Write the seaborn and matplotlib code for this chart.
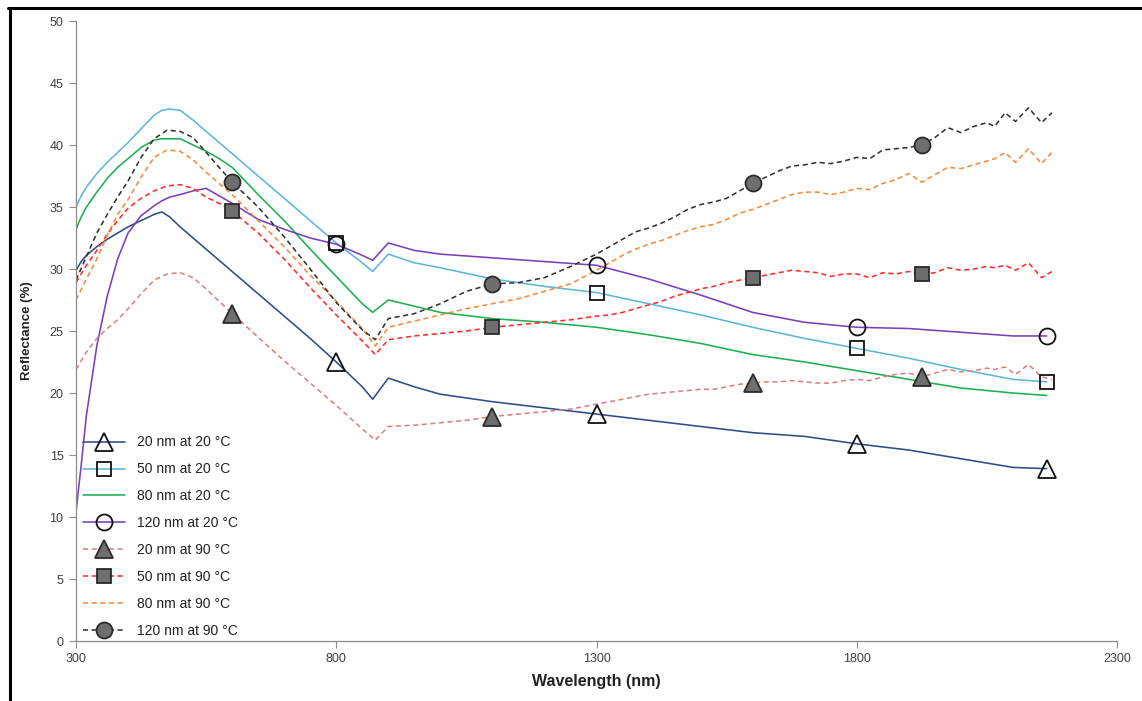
import matplotlib
matplotlib.use('Agg')
import matplotlib.pyplot as plt
from matplotlib.lines import Line2D
import seaborn as sns

# wavelength grid of the 20 °C scans (smooth curves)
wl_20c = [300, 310, 320, 340, 360, 380, 400, 425, 450, 465, 480, 500, 525, 550, 575, 600,
          650, 700, 750, 800, 850, 870, 900, 950, 1000, 1100, 1200, 1300, 1400, 1500,
          1600, 1700, 1800, 1900, 2000, 2100, 2165]

r20nm_20c = [29.9, 30.6, 31.1, 31.8, 32.4, 32.9, 33.4, 33.9, 34.4, 34.6, 34.2, 33.4, 32.5, 31.6, 30.7, 29.8,
             28.0, 26.2, 24.4, 22.5, 20.5, 19.5, 21.2, 20.5, 19.9, 19.3, 18.8, 18.3, 17.8, 17.3,
             16.8, 16.5, 15.9, 15.4, 14.7, 14.0, 13.9]
r50nm_20c = [35.0, 35.9, 36.6, 37.7, 38.6, 39.4, 40.2, 41.3, 42.4, 42.8, 42.9, 42.8, 42.0, 41.1, 40.2, 39.3,
             37.5, 35.7, 33.9, 32.1, 30.5, 29.8, 31.2, 30.5, 30.1, 29.2, 28.6, 28.1, 27.2, 26.3,
             25.3, 24.4, 23.6, 22.8, 21.9, 21.1, 20.9]
r80nm_20c = [33.2, 34.2, 35.0, 36.2, 37.3, 38.2, 38.9, 39.8, 40.4, 40.5, 40.5, 40.5, 40.0, 39.5, 38.9, 38.2,
             36.0, 33.9, 31.6, 29.4, 27.2, 26.5, 27.5, 27.0, 26.5, 26.0, 25.7, 25.3, 24.7, 24.0,
             23.1, 22.5, 21.8, 21.1, 20.4, 20.0, 19.8]
r120nm_20c = [10.4, 14.2, 18.2, 23.8, 27.8, 30.8, 32.9, 34.3, 35.1, 35.5, 35.8, 36.0, 36.3, 36.5, 35.9, 35.3,
              34.0, 33.2, 32.5, 32.0, 31.1, 30.7, 32.1, 31.5, 31.2, 30.9, 30.6, 30.3, 29.2, 27.9,
              26.5, 25.7, 25.3, 25.2, 24.9, 24.6, 24.6]

# wavelength grid of the 90 °C scans (noisier in the NIR)
wl_90c = [300, 320, 340, 360, 380, 400, 425, 450, 475, 500, 525, 550, 575, 600, 650, 700, 750, 800,
          850, 875, 900, 950, 1000, 1050, 1100, 1150, 1200, 1250, 1300,
          1325, 1350, 1375, 1400, 1425, 1450, 1475, 1500, 1525, 1550, 1575, 1600, 1625, 1650, 1675,
          1700, 1725, 1750, 1775, 1800, 1825, 1850, 1875, 1900, 1925, 1950, 1975, 2000, 2025, 2050,
          2065, 2085, 2105, 2130, 2155, 2175]

r20nm_90c = [21.9, 23.3, 24.4, 25.2, 25.9, 26.8, 28.0, 29.1, 29.6, 29.7, 29.3, 28.4, 27.4, 26.4, 24.5, 22.6, 20.8, 19.0,
             17.1, 16.2, 17.3, 17.4, 17.6, 17.8, 18.1, 18.3, 18.5, 18.7, 19.1,
             19.3, 19.5, 19.7, 19.9, 20.0, 20.1, 20.2, 20.3, 20.3, 20.5, 20.7, 20.8, 20.9, 20.9, 21.0,
             20.9, 20.8, 20.8, 21.0, 21.1, 21.0, 21.3, 21.5, 21.6, 21.3, 21.6, 21.9, 21.7, 21.8, 22.0,
             21.9, 22.1, 21.5, 22.3, 21.3, 21.1]
r50nm_90c = [28.9, 30.3, 31.5, 32.8, 33.9, 34.9, 35.7, 36.3, 36.7, 36.8, 36.5, 35.8, 35.3, 34.7, 32.9, 30.8, 28.5, 26.3,
             24.2, 23.1, 24.3, 24.6, 24.8, 25.0, 25.3, 25.5, 25.7, 25.9, 26.2,
             26.3, 26.5, 26.8, 27.1, 27.4, 27.8, 28.1, 28.4, 28.6, 28.9, 29.1, 29.3, 29.5, 29.7, 29.9,
             29.8, 29.7, 29.4, 29.6, 29.6, 29.3, 29.7, 29.6, 29.8, 29.6, 29.7, 30.1, 29.9, 30.0, 30.2,
             30.1, 30.3, 29.9, 30.5, 29.3, 29.8]
r80nm_90c = [27.5, 29.2, 30.8, 32.7, 34.4, 35.6, 37.4, 39.0, 39.6, 39.5, 38.8, 37.8, 36.9, 36.0, 33.9, 31.8, 29.5, 27.4,
             25.2, 23.8, 25.3, 25.8, 26.3, 26.8, 27.2, 27.6, 28.2, 28.8, 29.9,
             30.5, 31.1, 31.6, 32.0, 32.3, 32.7, 33.1, 33.4, 33.6, 34.0, 34.5, 34.8, 35.2, 35.6, 36.0,
             36.2, 36.2, 36.0, 36.2, 36.5, 36.4, 36.9, 37.2, 37.7, 37.0, 37.6, 38.2, 38.1, 38.4, 38.7,
             38.9, 39.4, 38.6, 39.7, 38.5, 39.4]
r120nm_90c = [29.1, 31.0, 32.9, 34.4, 35.8, 37.1, 39.0, 40.5, 41.2, 41.1, 40.6, 39.4, 38.2, 37.0, 35.0, 32.6, 30.0, 27.3,
              25.1, 24.3, 26.0, 26.4, 27.2, 28.2, 28.8, 28.9, 29.3, 30.2, 31.2,
              31.8, 32.4, 33.0, 33.3, 33.7, 34.2, 34.8, 35.2, 35.4, 35.7, 36.3, 36.9, 37.4, 37.9, 38.3,
              38.4, 38.6, 38.5, 38.7, 39.0, 38.9, 39.6, 39.7, 39.8, 40.0, 40.6, 41.4, 41.0, 41.5, 41.8,
              41.5, 42.6, 41.9, 43.0, 41.8, 42.6]

# wavelengths where Excel put the markers
mark_wl_20c = [800, 1300, 1800, 2165]
mark_wl_90c = [600, 1100, 1600, 1925]

labels = ['20 nm at 20 °C', '50 nm at 20 °C', '80 nm at 20 °C', '120 nm at 20 °C',
          '20 nm at 90 °C', '50 nm at 90 °C', '80 nm at 90 °C', '120 nm at 90 °C']

sns.set_theme(style='white')
plt.rcParams['font.family'] = ['Liberation Sans Narrow', 'Liberation Sans', 'DejaVu Sans']

gray_fill = '#6E6E6E'
dash = (3.2, 2.2)
styles = [
    dict(color='#2E4C8A', marker='^', ms=12.5, mfc='none', mec='#111111', dashes=None),
    dict(color='#5DB7DA', marker='s', ms=10, mfc='none', mec='#111111', dashes=None),
    dict(color='#1DB050', marker=None, ms=0, mfc='none', mec='#111111', dashes=None),
    dict(color='#7B3FBA', marker='o', ms=11.5, mfc='none', mec='#111111', dashes=None),
    dict(color='#D98282', marker='^', ms=12.5, mfc=gray_fill, mec='#2A2A2A', dashes=dash),
    dict(color='#FF2B2B', marker='s', ms=10, mfc=gray_fill, mec='#2A2A2A', dashes=dash),
    dict(color='#F58B3A', marker=None, ms=0, mfc='none', mec='#111111', dashes=dash),
    dict(color='#333333', marker='o', ms=11.5, mfc=gray_fill, mec='#2A2A2A', dashes=dash),
]

series = [
    (wl_20c, r20nm_20c, mark_wl_20c), (wl_20c, r50nm_20c, mark_wl_20c),
    (wl_20c, r80nm_20c, mark_wl_20c), (wl_20c, r120nm_20c, mark_wl_20c),
    (wl_90c, r20nm_90c, mark_wl_90c), (wl_90c, r50nm_90c, mark_wl_90c),
    (wl_90c, r80nm_90c, mark_wl_90c), (wl_90c, r120nm_90c, mark_wl_90c),
]

fig = plt.figure(figsize=(11.42, 7.01), dpi=100)
ax = fig.add_axes([76 / 1142, 60 / 701, 1041 / 1142, 620 / 701])

handles = []
for i, ((wl, vals, marks), st, lab) in enumerate(zip(series, styles, labels)):
    kw = dict(color=st['color'], linewidth=1.15)
    if st['dashes'] is not None:
        kw['dashes'] = st['dashes']
    sns.lineplot(x=wl, y=vals, ax=ax, zorder=2 + i * 0.01, **kw)
    if st['marker']:
        idx = [wl.index(w) for w in marks]
        sns.lineplot(x=[wl[j] for j in idx], y=[vals[j] for j in idx], ax=ax,
                     linestyle='none', marker=st['marker'], markersize=st['ms'],
                     markerfacecolor=st['mfc'], markeredgecolor=st['mec'], markeredgewidth=1.3,
                     zorder=4)
    h = Line2D([], [], color=st['color'], linewidth=1.15,
               marker=st['marker'] if st['marker'] else None, markersize=st['ms'],
               markerfacecolor=st['mfc'], markeredgecolor=st['mec'], markeredgewidth=1.3)
    if st['dashes'] is not None:
        h.set_dashes(st['dashes'])
    handles.append(h)

ax.set_xlim(300, 2300)
ax.set_ylim(0, 50)
ax.set_xticks([300, 800, 1300, 1800, 2300])
ax.set_yticks(range(0, 51, 5))
ax.tick_params(bottom=True, left=True, direction='out', length=5, width=0.8,
               color='#8C8C8C', labelcolor='#404040', labelsize=9, pad=4)
for s in ['top', 'right']:
    ax.spines[s].set_visible(False)
for s in ['left', 'bottom']:
    ax.spines[s].set_color('#8C8C8C')
    ax.spines[s].set_linewidth(0.9)

ax.set_xlabel('Wavelength (nm)', fontsize=11.5, fontweight='bold', color='#222222')
ax.set_ylabel('Reflectance (%)', fontsize=9.5, fontweight='bold', color='#222222')
ax.xaxis.set_label_coords(0.5, -0.053)
ax.yaxis.set_label_coords(-0.041, 0.5)

ax.legend(handles, labels, loc='lower left', bbox_to_anchor=(0.007, 0.005),
          frameon=False, fontsize=10, handlelength=3.0, handletextpad=0.86,
          labelspacing=0.93, borderpad=0, borderaxespad=0, numpoints=1, labelcolor='#222222')

# screenshot border (top and left edges)
fig.add_artist(Line2D([8 / 1142, 1], [1 - 7.5 / 701, 1 - 7.5 / 701], color='black', linewidth=2.2))
fig.add_artist(Line2D([9.5 / 1142, 9.5 / 1142], [0, 1 - 7.5 / 701], color='black', linewidth=2.2))

fig.savefig('out.png', dpi=100)
